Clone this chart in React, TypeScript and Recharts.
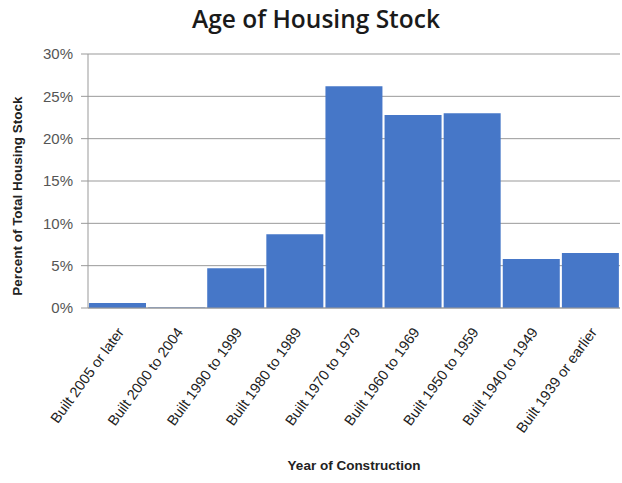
import { BarChart, Bar, XAxis, YAxis, CartesianGrid } from "recharts";

const categories = [
  "Built 2005 or later",
  "Built 2000 to 2004",
  "Built 1990 to 1999",
  "Built 1980 to 1989",
  "Built 1970 to 1979",
  "Built 1960 to 1969",
  "Built 1950 to 1959",
  "Built 1940 to 1949",
  "Built 1939 or earlier",
];
const shares = [0.6, 0.05, 4.7, 8.7, 26.2, 22.8, 23.0, 5.8, 6.5];
const yTicks = [0, 5, 10, 15, 20, 25, 30];

const data = categories.map((name, i) => ({ name, value: shares[i] }));

const XTick = ({ x, y, payload }: any) => {
  const ax = x + 4;
  const ay = y + 14;
  return (
    <text
      x={ax}
      y={ay}
      transform={`rotate(-54 ${ax} ${ay})`}
      textAnchor="end"
      dominantBaseline="middle"
      fontSize={14.5}
      fontFamily="Liberation Sans, Arial, sans-serif"
      fill="#222"
    >
      {payload.value}
    </text>
  );
};

export default function App() {
  return (
    <div style={{ position: "absolute", left: 0, top: 0, width: 622, height: 483, background: "#fff" }}>
      <div
        style={{
          position: "absolute",
          top: 2,
          width: 632,
          textAlign: "center",
          fontFamily: "Open Sans, Lato, sans-serif",
          fontWeight: 600,
          fontSize: 24.5,
          color: "#1a1a1a",
        }}
      >
        Age of Housing Stock
      </div>
      <div
        style={{
          position: "absolute",
          top: 458,
          left: 88,
          width: 532,
          textAlign: "center",
          fontFamily: "Liberation Sans, Arial, sans-serif",
          fontWeight: 700,
          fontSize: 13.5,
          color: "#222",
        }}
      >
        Year of Construction
      </div>
      <svg width={40} height={483} style={{ position: "absolute", left: 0, top: 0 }}>
        <text
          x={22}
          y={196}
          transform="rotate(-90 22 196)"
          textAnchor="middle"
          fontSize={13.5}
          fontWeight={700}
          fill="#222"
          fontFamily="Liberation Sans, Arial, sans-serif"
        >
          Percent of Total Housing Stock
        </text>
      </svg>
      <BarChart
        width={622}
        height={483}
        data={data}
        margin={{ top: 54, right: 2, bottom: 0, left: 0 }}
        barCategoryGap={1}
        style={{ position: "absolute", left: 0, top: 0 }}
      >
        <CartesianGrid horizontal vertical={false} stroke="#999" />
        <XAxis
          dataKey="name"
          interval={0}
          tick={<XTick />}
          axisLine={{ stroke: "#999" }}
          tickLine={false}
          height={175}
        />
        <YAxis
          domain={[0, 30]}
          ticks={yTicks}
          width={88}
          tickFormatter={(v: number) => `${v}%`}
          tick={{ fontSize: 15, fill: "#555", fontFamily: "Liberation Sans, Arial, sans-serif" }}
          axisLine={{ stroke: "#999" }}
          tickLine={{ stroke: "#999" }}
          tickSize={7}
          tickMargin={8}
        />
        <Bar dataKey="value" fill="#4677c8" isAnimationActive={false} />
      </BarChart>
    </div>
  );
}
